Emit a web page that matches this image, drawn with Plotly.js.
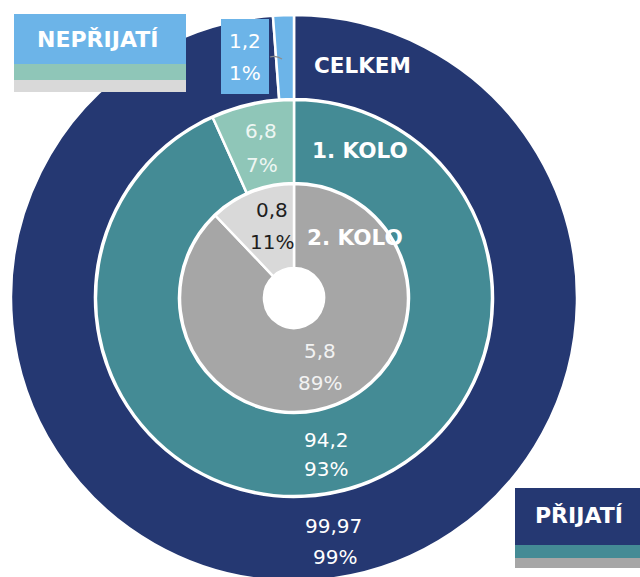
<!DOCTYPE html>
<html>
<head>
<meta charset="utf-8">
<script src="https://cdn.plot.ly/plotly-3.0.1.min.js"></script>
<style>
  html, body { margin: 0; padding: 0; background: #ffffff; overflow: hidden; }
  #wrap { width: 640px; height: 577px; overflow: hidden; }
  #chart { width: 640px; height: 600px; }
</style>
</head>
<body>
<div id="wrap"><div id="chart"></div></div>
<script>
// ---- data ----
const categories = ['NEPŘIJATÍ', 'PŘIJATÍ'];
const ringNames = ['CELKEM', '1. KOLO', '2. KOLO'];
const celkemValues = [1.2, 99.97];
const kolo1Values = [6.8, 94.2];
const kolo2Values = [0.8, 5.8];
const celkemPct = ['1%', '99%'];
const kolo1Pct = ['7%', '93%'];
const kolo2Pct = ['11%', '89%'];

// ---- styling / geometry (not data) ----
const W = 640, H = 600, CX = 294, CY = 298;
const ringColors = [
  ['#6CB4E8', '#253872'],
  ['#8FC6B8', '#448B95'],
  ['#D9D9D9', '#A6A6A6']
];
const ringGeom = [
  { r: 283, inner: 199 },
  { r: 198, inner: 115 },
  { r: 114, inner: 30 }
];
// label centres in pixels: [value line, pct line] per slice, per ring
const labelPos = [
  [[[245, 41], [245, 73]], [[333, 526], [335, 557]]],
  [[[261, 131], [262, 165]], [[326, 440], [326, 469]]],
  [[[272, 210], [272, 242]], [[320, 351], [320, 383]]]
];
const labelColors = [
  ['#ffffff', '#ffffff'],
  ['#EEF6F3', '#ffffff'],
  ['#1E1E1E', '#F2F2F2']
];
const ringNamePos = [[362, 66], [360, 150], [355, 238]];

const ringValues = [celkemValues, kolo1Values, kolo2Values];
const ringPct = [celkemPct, kolo1Pct, kolo2Pct];

const px = x => x / W;
const py = y => (H - y) / H;
const fmt = v => String(v).replace('.', ',');

// Plotly's counterclockwise pie puts the first slice right of 12 o'clock,
// so feed the slices in reverse order to get NEPŘIJATÍ just left of the top.
const traces = ringValues.map((vals, i) => {
  const g = ringGeom[i];
  return {
    type: 'pie',
    labels: categories.slice().reverse(),
    values: vals.slice().reverse(),
    sort: false,
    direction: 'counterclockwise',
    rotation: 0,
    hole: g.inner / g.r,
    textinfo: 'none',
    hoverinfo: 'skip',
    showlegend: false,
    marker: { colors: ringColors[i].slice().reverse(), line: { color: '#ffffff', width: 2.5 } },
    domain: {
      x: [(CX - g.r) / W, (CX + g.r) / W],
      y: [(H - CY - g.r) / H, (H - CY + g.r) / H]
    }
  };
});

const numFont = 'DejaVu Sans, sans-serif';
const boldFont = 'DejaVu Sans, sans-serif';

const annotations = [];
ringValues.forEach((vals, i) => {
  vals.forEach((v, j) => {
    const pos = labelPos[i][j];
    [fmt(v), ringPct[i][j]].forEach((t, k) => {
      annotations.push({
        xref: 'paper', yref: 'paper',
        x: px(pos[k][0]), y: py(pos[k][1]),
        xanchor: 'center', yanchor: 'middle',
        text: t, showarrow: false,
        font: { family: numFont, size: 20, color: labelColors[i][j] }
      });
    });
  });
});
ringNames.forEach((name, i) => {
  annotations.push({
    xref: 'paper', yref: 'paper',
    x: px(ringNamePos[i][0]), y: py(ringNamePos[i][1]),
    xanchor: 'center', yanchor: 'middle',
    text: '<b>' + name + '</b>', showarrow: false,
    font: { family: boldFont, size: 21.5, color: '#ffffff' }
  });
});
// legend texts
annotations.push({
  xref: 'paper', yref: 'paper', x: px(97.5), y: py(40),
  xanchor: 'center', yanchor: 'middle', showarrow: false,
  text: '<b>' + categories[0] + '</b>',
  font: { family: boldFont, size: 22, color: '#ffffff' }
});
annotations.push({
  xref: 'paper', yref: 'paper', x: px(579), y: py(515),
  xanchor: 'center', yanchor: 'middle', showarrow: false,
  text: '<b>' + categories[1] + '</b>',
  font: { family: boldFont, size: 22, color: '#ffffff' }
});

function rect(x0, y0, x1, y1, color) {
  return { type: 'rect', xref: 'paper', yref: 'paper',
    x0: px(x0), x1: px(x1), y0: py(y1), y1: py(y0),
    fillcolor: color, line: { width: 0 }, layer: 'above' };
}

const shapes = [
  // NEPŘIJATÍ legend block
  rect(14, 14, 186, 64, ringColors[0][0]),
  rect(14, 64, 186, 80, ringColors[1][0]),
  rect(14, 80, 186, 92, ringColors[2][0]),
  // PŘIJATÍ legend block
  rect(515, 488, 640, 545, ringColors[0][1]),
  rect(515, 545, 640, 558, ringColors[1][1]),
  rect(515, 558, 640, 568, ringColors[2][1]),
  // callout box for the small outer slice
  rect(221, 19, 269, 94, ringColors[0][0]),
  { type: 'path', xref: 'paper', yref: 'paper',
    path: 'M ' + px(270) + ' ' + py(57) + ' Q ' + px(276) + ' ' + py(55) + ' ' + px(282) + ' ' + py(59),
    line: { color: '#8C8C8C', width: 1.2 }, layer: 'above' }
];

const layout = {
  width: W, height: H,
  margin: { l: 0, r: 0, t: 0, b: 0 },
  paper_bgcolor: '#ffffff',
  plot_bgcolor: '#ffffff',
  showlegend: false,
  shapes: shapes,
  annotations: annotations
};

Plotly.newPlot('chart', traces, layout, { displayModeBar: false, staticPlot: true });
</script>
</body>
</html>
